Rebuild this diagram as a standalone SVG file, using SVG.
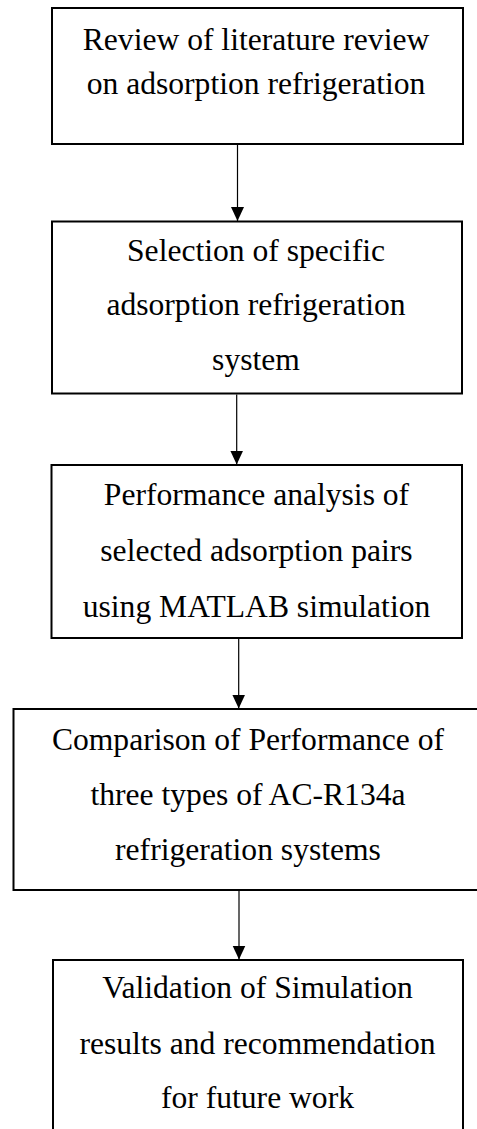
<svg xmlns="http://www.w3.org/2000/svg" width="477" height="1129" viewBox="0 0 477 1129">
<style>
.box{fill:#fff;stroke:#000;stroke-width:2}
.t{font-family:"Liberation Serif","Times New Roman",serif;font-size:31.6px;fill:#000;text-anchor:middle}
.c{stroke:#000;stroke-width:1.2;fill:none}
</style>
<defs>
<marker id="ah" markerUnits="userSpaceOnUse" markerWidth="15" markerHeight="14" refX="14" refY="6.5" orient="auto">
<path d="M0,0 L14,6.5 L0,13 Z" fill="#000"/>
</marker>
</defs>
<rect width="477" height="1129" fill="#fff"/>
<g id="node1">
<rect class="box" x="52" y="8" width="411" height="136"/>
<text class="t" x="256" y="49.5">Review of literature review</text>
<text class="t" x="256" y="93.5">on adsorption refrigeration</text>
</g>
<g id="node2">
<rect class="box" x="52" y="221.5" width="410" height="172"/>
<text class="t" x="256" y="260.5">Selection of specific</text>
<text class="t" x="256" y="315">adsorption refrigeration</text>
<text class="t" x="256" y="370">system</text>
</g>
<g id="node3">
<rect class="box" x="51.5" y="465" width="410.5" height="173"/>
<text class="t" x="256.5" y="505">Performance analysis of</text>
<text class="t" x="256.5" y="561">selected adsorption pairs</text>
<text class="t" x="256.5" y="616.5">using MATLAB simulation</text>
</g>
<g id="node4">
<rect class="box" x="13.5" y="709" width="470" height="181"/>
<text class="t" x="248" y="750">Comparison of Performance of</text>
<text class="t" x="248" y="805">three types of AC-R134a</text>
<text class="t" x="248" y="860">refrigeration systems</text>
</g>
<g id="node5">
<rect class="box" x="53" y="960" width="410" height="200"/>
<text class="t" x="257.5" y="998">Validation of Simulation</text>
<text class="t" x="257.5" y="1054">results and recommendation</text>
<text class="t" x="257.5" y="1108">for future work</text>
</g>
<g id="connectors">
<line class="c" x1="237.5" y1="145" x2="237.5" y2="221" marker-end="url(#ah)"/>
<line class="c" x1="236.7" y1="394.5" x2="236.7" y2="464.5" marker-end="url(#ah)"/>
<line class="c" x1="238.7" y1="639" x2="238.7" y2="708.5" marker-end="url(#ah)"/>
<line class="c" x1="239" y1="891" x2="239" y2="959.5" marker-end="url(#ah)"/>
</g>
</svg>
